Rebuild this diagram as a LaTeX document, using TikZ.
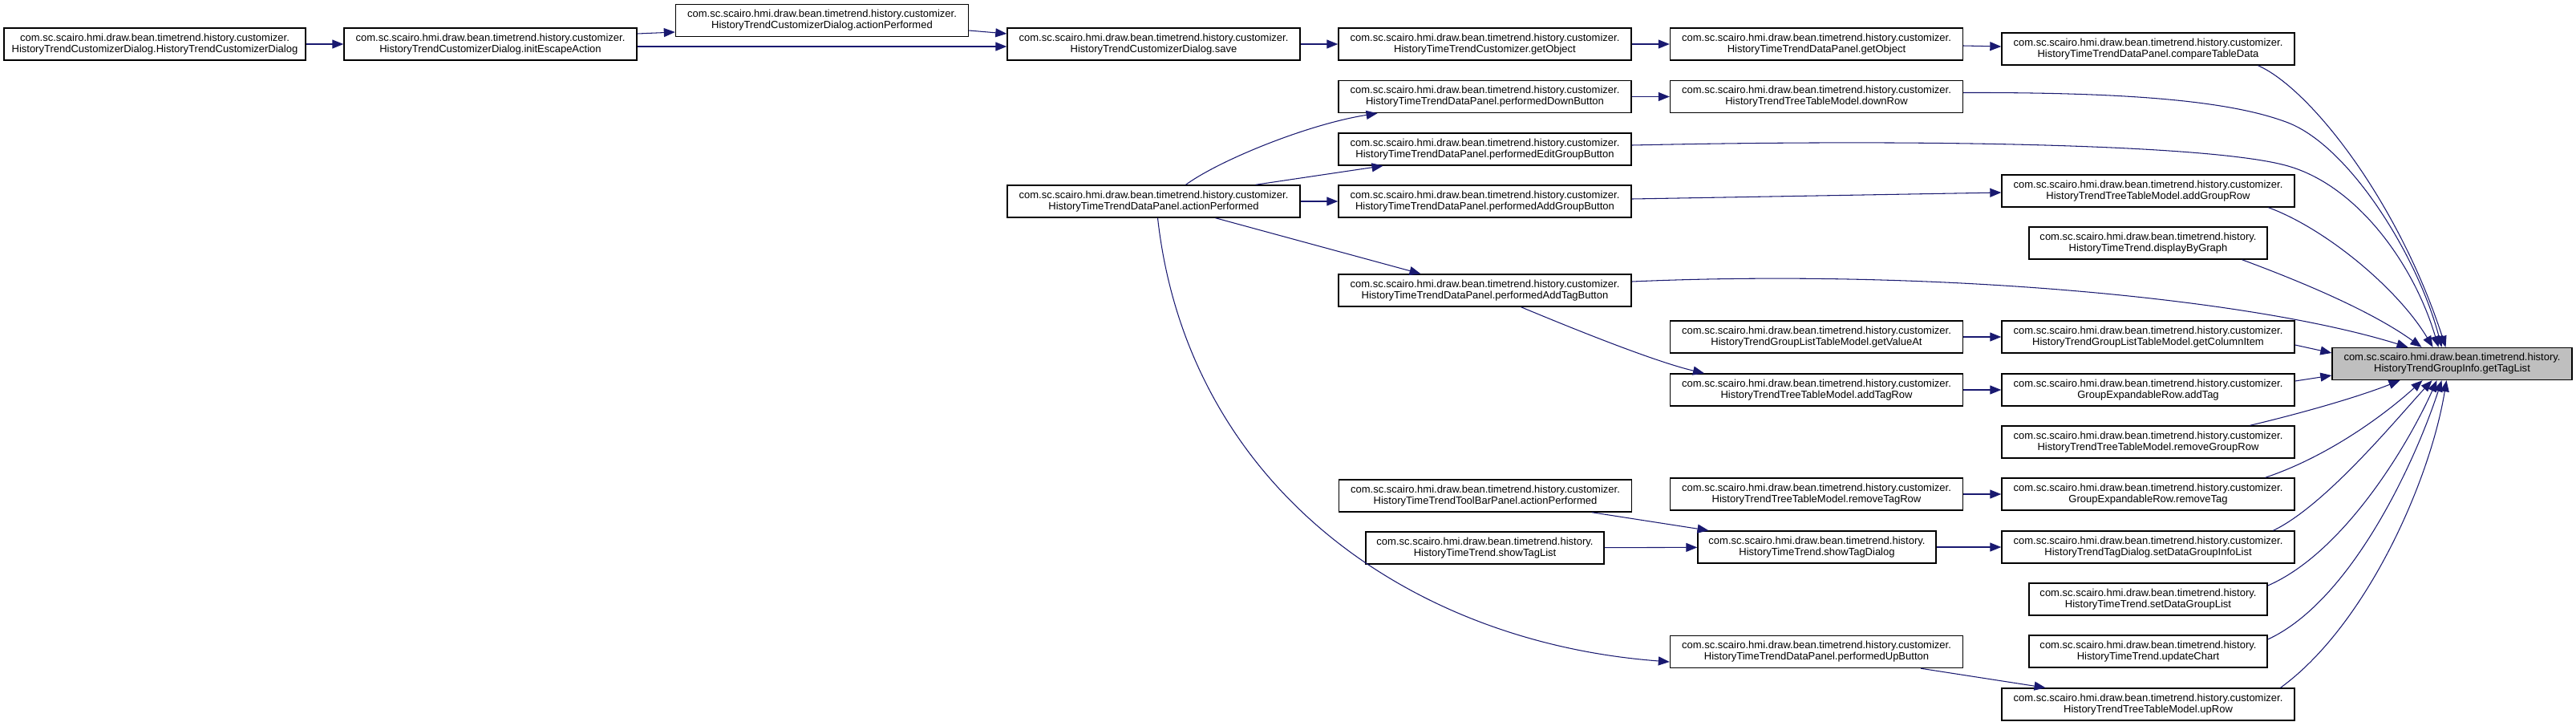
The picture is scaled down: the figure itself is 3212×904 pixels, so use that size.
\documentclass[tikz,border=0pt]{standalone}
\usepackage{fontspec}
\setmainfont{Liberation Sans}
\usetikzlibrary{arrows.meta, calc}
\definecolor{edgeblue}{HTML}{191970}
\definecolor{selfgray}{HTML}{BFBFBF}
\newcommand{\custpkg}{com.sc.scairo.hmi.draw.bean.timetrend.history.customizer.}
\newcommand{\histpkg}{com.sc.scairo.hmi.draw.bean.timetrend.history.}
\tikzset{
  fn/.style={rectangle,draw=black,fill=white,line width=0.8pt,align=center,inner sep=0pt,
    minimum width=73mm,minimum height=8mm,font=\fontsize{7.4}{8}\selectfont},
  fnshort/.style={fn,minimum width=59.4mm},
  fnself/.style={fn,fill=selfgray,minimum width=59.8mm},
  link/.style={draw=edgeblue,line width=0.6pt,-{Triangle[length=2.8mm,width=2.2mm]}}
}

\begin{document}
\begin{tikzpicture}[x=0.2mm,y=-0.2mm]
\useasboundingbox (0,0) rectangle (3212,904);
\node[fn,minimum width=75.2mm] (ctor) at (193,55) {\custpkg\\HistoryTrendCustomizerDialog.HistoryTrendCustomizerDialog};
\node[fn] (escape) at (611.5,55) {\custpkg\\HistoryTrendCustomizerDialog.initEscapeAction};
\node[fn] (dlgaction) at (1025,25.5) {\custpkg\\HistoryTrendCustomizerDialog.actionPerformed};
\node[fn] (save) at (1438.5,55) {\custpkg\\HistoryTrendCustomizerDialog.save};
\node[fn] (panelaction) at (1438.5,251) {\custpkg\\HistoryTimeTrendDataPanel.actionPerformed};
\node[fn] (custgetobj) at (1851.5,55) {\custpkg\\HistoryTimeTrendCustomizer.getObject};
\node[fn] (panelgetobj) at (2265,55) {\custpkg\\HistoryTimeTrendDataPanel.getObject};
\node[fn] (downbtn) at (1851.5,120.5) {\custpkg\\HistoryTimeTrendDataPanel.performedDownButton};
\node[fn] (downrow) at (2265,120.5) {\custpkg\\HistoryTrendTreeTableModel.downRow};
\node[fn] (editgrpbtn) at (1851.5,186) {\custpkg\\HistoryTimeTrendDataPanel.performedEditGroupButton};
\node[fn] (addgrpbtn) at (1851.5,251) {\custpkg\\HistoryTimeTrendDataPanel.performedAddGroupButton};
\node[fn] (addtagbtn) at (1851.5,362) {\custpkg\\HistoryTimeTrendDataPanel.performedAddTagButton};
\node[fn] (valueat) at (2265,420) {\custpkg\\HistoryTrendGroupListTableModel.getValueAt};
\node[fn] (addtagrow) at (2265,486) {\custpkg\\HistoryTrendTreeTableModel.addTagRow};
\node[fn] (removetagrow) at (2265,616) {\custpkg\\HistoryTrendTreeTableModel.removeTagRow};
\node[fn] (toolbar) at (1852,618) {\custpkg\\HistoryTimeTrendToolBarPanel.actionPerformed};
\node[fnshort] (showlist) at (1851.5,683) {\histpkg\\HistoryTimeTrend.showTagList};
\node[fnshort] (showdlg) at (2265.5,682) {\histpkg\\HistoryTimeTrend.showTagDialog};
\node[fn] (upbtn) at (2265,812.5) {\custpkg\\HistoryTimeTrendDataPanel.performedUpButton};
\node[fn] (compare) at (2678.5,61) {\custpkg\\HistoryTimeTrendDataPanel.compareTableData};
\node[fn] (addgrprow) at (2678.5,238) {\custpkg\\HistoryTrendTreeTableModel.addGroupRow};
\node[fnshort] (display) at (2678.5,303) {\histpkg\\HistoryTimeTrend.displayByGraph};
\node[fn] (colitem) at (2678.5,420) {\custpkg\\HistoryTrendGroupListTableModel.getColumnItem};
\node[fn] (rowaddtag) at (2678.5,486) {\custpkg\\GroupExpandableRow.addTag};
\node[fn] (rmgrprow) at (2678.5,551) {\custpkg\\HistoryTrendTreeTableModel.removeGroupRow};
\node[fn] (rowrmtag) at (2678.5,616) {\custpkg\\GroupExpandableRow.removeTag};
\node[fn] (setinfo) at (2678.5,682) {\custpkg\\HistoryTrendTagDialog.setDataGroupInfoList};
\node[fnshort] (setlist) at (2678.5,747) {\histpkg\\HistoryTimeTrend.setDataGroupList};
\node[fnshort] (update) at (2678.5,812) {\histpkg\\HistoryTimeTrend.updateChart};
\node[fn] (uprow) at (2678.5,878) {\custpkg\\HistoryTrendTreeTableModel.upRow};
\node[fnself] (taglist) at (3057.5,453.5) {\histpkg\\HistoryTrendGroupInfo.getTagList};

\draw[link] (ctor) -- (escape);
\draw[link] ($(escape.east)+(0,-13)$) -- ($(dlgaction.west)+(0,14.5)$);
\draw[link] ($(escape.east)+(0,3)$) -- ($(save.west)+(0,3)$);
\draw[link] ($(dlgaction.east)+(0,12.5)$) -- ($(save.west)+(0,-13)$);
\draw[link] (save) -- (custgetobj);
\draw[link] (custgetobj) -- (panelgetobj);
\draw[link] ($(panelgetobj.east)+(0,2)$) -- ($(compare.west)+(0,-3)$);
\draw[link] (downbtn) -- (downrow);
\draw[link] ($(panelaction.north)+(40,0)$) .. controls (1520,200) and (1630,155) .. ($(downbtn.south)+(-134,0)$);
\draw[link] ($(panelaction.north)+(127,0)$) -- ($(editgrpbtn.south)+(-127,0)$);
\draw[link] (panelaction) -- (addgrpbtn);
\draw[link] ($(panelaction.south)+(77,0)$) -- ($(addtagbtn.north)+(-80,0)$);
\draw[link] ($(panelaction.south)+(5,0)$) .. controls (1480,600) and (1750,800) .. ($(upbtn.west)+(0,12.5)$);
\draw[link] ($(addgrpbtn.east)+(0,-3)$) -- ($(addgrprow.west)+(0,2)$);
\draw[link] ($(addtagbtn.south)+(45,0)$) .. controls (1950,405) and (2060,450) .. ($(addtagrow.north)+(-140,0)$);
\draw[link] (valueat) -- (colitem);
\draw[link] (addtagrow) -- (rowaddtag);
\draw[link] (removetagrow) -- (rowrmtag);
\draw[link] (showlist) -- (showdlg);
\draw[link] (showdlg) -- (setinfo);
\draw[link] ($(toolbar.south)+(133,0)$) -- ($(showdlg.north)+(-135,0)$);
\draw[link] ($(upbtn.south)+(130,0)$) -- ($(uprow.north)+(-128,0)$);

\draw[link] ($(compare.south)+(137,0)$) .. controls (2880,110) and (2990,250) .. ($(taglist.north)+(-8,0)$);
\draw[link] ($(downrow.east)+(0,-5)$) .. controls (2650,115) and (2780,125) .. (2853,153)
  .. controls (2930,183) and (3015,320) .. ($(taglist.north)+(-13,0)$);
\draw[link] ($(editgrpbtn.east)+(0,-5)$) .. controls (2400,173) and (2760,180) .. (2853,207)
  .. controls (2940,232) and (3010,330) .. ($(taglist.north)+(-17,0)$);
\draw[link] ($(addgrprow.south)+(150,0)$) .. controls (2900,285) and (2990,360) .. ($(taglist.north)+(-24,0)$);
\draw[link] ($(display.south)+(117,0)$) .. controls (2880,355) and (2960,390) .. ($(taglist.north)+(-38,0)$);
\draw[link] ($(addtagbtn.east)+(0,-11)$) .. controls (2400,335) and (2800,370) .. ($(taglist.north)+(-55,0)$);
\draw[link] ($(colitem.east)+(0,10)$) -- ($(taglist.west)+(0,-13.5)$);
\draw[link] ($(rowaddtag.east)+(0,-11)$) -- ($(taglist.west)+(0,14.5)$);
\draw[link] ($(rmgrprow.north)+(127,0)$) .. controls (2870,515) and (2940,495) .. ($(taglist.south)+(-65,0)$);
\draw[link] ($(rowrmtag.north)+(146,0)$) .. controls (2900,570) and (2970,520) .. ($(taglist.south)+(-37,0)$);
\draw[link] ($(setinfo.north)+(156,0)$) .. controls (2900,630) and (2990,520) .. ($(taglist.south)+(-25,0)$);
\draw[link] ($(setlist.east)+(0,-17)$) .. controls (2920,690) and (3000,560) .. ($(taglist.south)+(-19,0)$);
\draw[link] ($(update.east)+(0,-15)$) .. controls (2930,750) and (3010,580) .. ($(taglist.south)+(-13,0)$);
\draw[link] ($(uprow.north)+(165,0)$) .. controls (2950,780) and (3030,600) .. ($(taglist.south)+(-7,0)$);
\end{tikzpicture}
\end{document}
